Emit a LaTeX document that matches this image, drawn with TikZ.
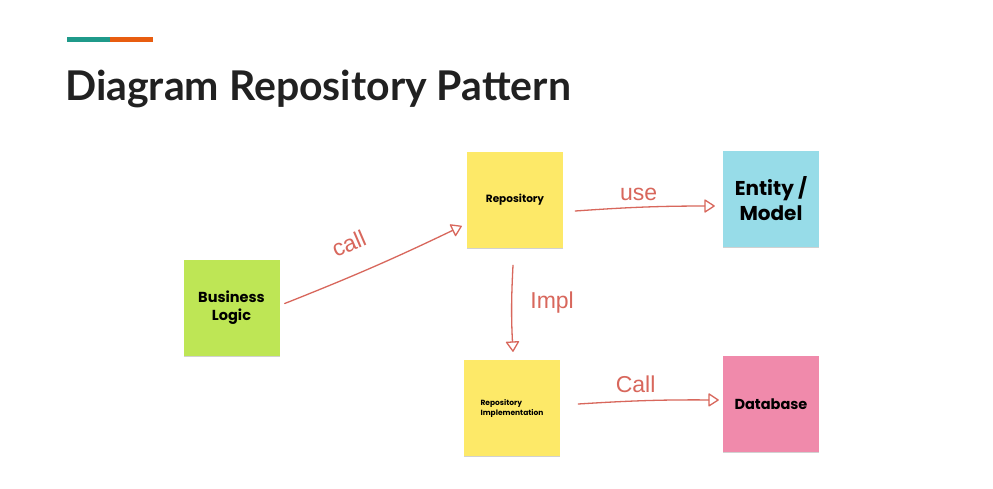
\documentclass[tikz,border=0pt]{standalone}
\usepackage{fontspec}
\setmainfont{Poppins}
\newfontfamily\titlefont{Lato}
\newfontfamily\handfont{Liberation Sans}
\usetikzlibrary{arrows.meta}

\definecolor{accentteal}{HTML}{1F9A8A}
\definecolor{accentorange}{HTML}{E85D10}
\definecolor{notegreen}{HTML}{BEE655}
\definecolor{noteyellow}{HTML}{FDE968}
\definecolor{noteblue}{HTML}{97DCE8}
\definecolor{notepink}{HTML}{F08AAB}
\definecolor{inkred}{HTML}{D8675C}
\definecolor{titleink}{HTML}{212121}

\tikzset{
  note/.style={minimum width=96pt, minimum height=96pt, inner sep=2pt,
    align=center, font=\bfseries, text=black,
    preaction={fill=black!18, transform canvas={yshift=-1.2pt}}},
  ink/.style={draw=inkred, line width=1.3pt, line cap=round,
    -{Triangle[open, round, length=11pt, width=14pt]}},
  handlabel/.style={text=inkred, font=\handfont\fontsize{23}{23}\selectfont, inner sep=0pt}
}

\begin{document}
\begin{tikzpicture}[x=1pt, y=-1pt]
  \useasboundingbox[fill=white] (0,0) rectangle (993,488);

  % heading accent bar and title
  \fill[accentteal] (67,37) rectangle (110,41.5);
  \fill[accentorange] (110,37) rectangle (153,41.5);
  \node[anchor=base west, inner sep=0pt, text=titleink,
        font=\titlefont\bfseries\fontsize{41}{41}\selectfont] (title) at (65,100)
        {Diagram Repository Pattern};

  % sticky notes
  \node[note, fill=notegreen, font=\bfseries\fontsize{14.5}{18}\selectfont] (bl) at (231.5,307.5) {Business\\Logic};
  \node[note, fill=noteyellow, font=\bfseries\fontsize{10.5}{12}\selectfont] (rep) at (515,200) {Repository};
  \node[note, fill=noteblue, font=\bfseries\fontsize{20}{25}\selectfont] (ent) at (771,199) {Entity /\\Model};
  \node[note, fill=noteyellow, align=left, font=\bfseries\fontsize{7.5}{10}\selectfont] (impl) at (512,408) {Repository\\Implementation};
  \node[note, fill=notepink, font=\bfseries\fontsize{14.5}{18}\selectfont] (db) at (771,404) {Database};

  % hand-drawn connectors
  \draw[ink] ([xshift=5pt,yshift=4pt]bl.east) to[bend right=2]
    node[pos=0.42, sloped, above=22pt, handlabel] (lcall) {call}
    ([xshift=-5pt,yshift=-26pt]rep.west);
  \draw[ink] ([xshift=12pt,yshift=-11pt]rep.east) to[bend left=2]
    node[pos=0.45, above=6pt, handlabel] (luse) {use}
    ([xshift=-8pt,yshift=-7pt]ent.west);
  \draw[ink] ([xshift=-2pt,yshift=-17pt]rep.south) to[bend right=3]
    node[pos=0.42, right=18pt, handlabel] (limpl) {Impl}
    ([xshift=1pt,yshift=8pt]impl.north);
  \draw[ink] ([xshift=18pt,yshift=4pt]impl.east) to[bend left=2]
    node[pos=0.4, above=8pt, handlabel] (lcall2) {Call}
    ([xshift=-4pt,yshift=4pt]db.west);
\end{tikzpicture}
\end{document}
